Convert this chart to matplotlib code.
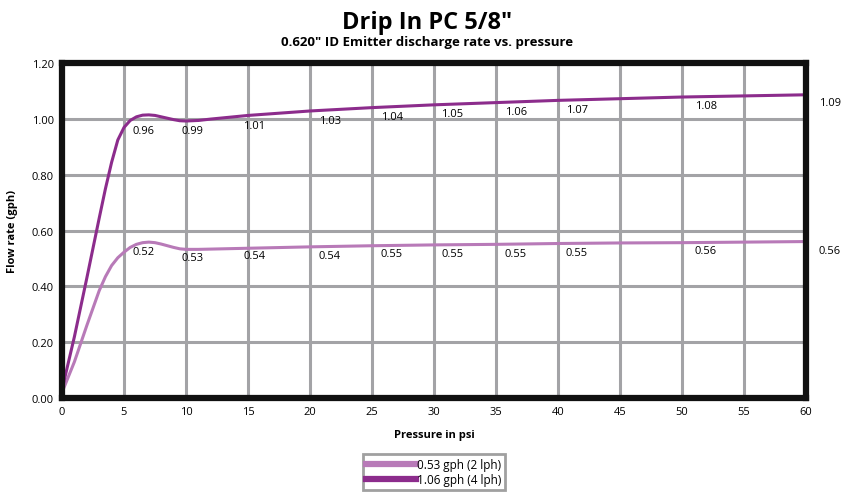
import matplotlib
matplotlib.use("Agg")
import matplotlib.pyplot as plt

## values
pressure = [0, 1, 2, 3, 3.5, 4, 4.5, 5, 5.5, 6, 6.5, 7, 7.5, 8, 8.5, 9, 9.5, 10, 11, 12,
            15, 20, 25, 30, 35, 40, 45, 50, 55, 60]
flow_2lph = [0.02, 0.13, 0.26, 0.385, 0.435, 0.475, 0.503, 0.523, 0.54, 0.551, 0.557, 0.559, 0.557, 0.552,
             0.546, 0.54, 0.535, 0.533, 0.533, 0.534,
             0.537, 0.542, 0.546, 0.549, 0.551, 0.554, 0.556, 0.557, 0.559, 0.561]
flow_4lph = [0.03, 0.22, 0.43, 0.645, 0.75, 0.845, 0.925, 0.97, 0.995, 1.008, 1.014, 1.015, 1.013, 1.008,
             1.003, 0.998, 0.994, 0.993, 0.995, 1.0,
             1.013, 1.029, 1.041, 1.051, 1.059, 1.067, 1.073, 1.079, 1.083, 1.087]

label_x = [5.7, 9.6, 14.6, 20.7, 25.7, 30.6, 35.7, 40.6, 51.0]
labels_2lph = ["0.52", "0.53", "0.54", "0.54", "0.55", "0.55", "0.55", "0.55", "0.56"]
labels_4lph = ["0.96", "0.99", "1.01", "1.03", "1.04", "1.05", "1.06", "1.07", "1.08"]
labels_2lph_y = [0.525, 0.505, 0.51, 0.512, 0.517, 0.517, 0.517, 0.52, 0.53]
labels_4lph_y = [0.96, 0.96, 0.977, 0.995, 1.009, 1.019, 1.027, 1.034, 1.047]
end_labels = ["0.56", "1.09"]
end_label_y = [0.56, 1.09]

LIGHT = "#b87ab8"
DARK = "#8c2c8c"
GRID = "#a3a3a6"

plt.rcParams['font.family'] = ['Open Sans', 'DejaVu Sans']

fig = plt.figure(figsize=(8.54, 5.02), dpi=100)
ax = fig.add_axes([0.0726, 0.205, 0.8714, 0.667])

ax.plot(pressure, flow_2lph, color=LIGHT, linewidth=2.2, label="0.53 gph (2 lph)", solid_joinstyle='round')
ax.plot(pressure, flow_4lph, color=DARK, linewidth=2.2, label="1.06 gph (4 lph)", solid_joinstyle='round')

for x, t, y in zip(label_x, labels_2lph, labels_2lph_y):
    ax.text(x, y, t, fontsize=8, ha='left', va='center')
for x, t, y in zip(label_x, labels_4lph, labels_4lph_y):
    ax.text(x, y, t, fontsize=8, ha='left', va='center')
for t, y in zip(end_labels, end_label_y):
    ax.text(61, y - 0.03, t, fontsize=8, ha='left', va='center', clip_on=False)

ax.set_xlim(0, 60)
ax.set_ylim(0, 1.2)
ax.set_xticks(range(0, 61, 5))
ax.set_yticks([0, 0.2, 0.4, 0.6, 0.8, 1.0, 1.2])
ax.set_yticklabels(["{:.2f}".format(v) for v in ax.get_yticks()])
ax.grid(True, color=GRID, linewidth=2.2)
ax.set_axisbelow(True)
ax.tick_params(axis='both', length=0, labelsize=8, pad=6)

for s in ax.spines.values():
    s.set_linewidth(4.5)
    s.set_color("#111111")

ax.set_xlabel("Pressure in psi", fontsize=8, fontweight='bold', labelpad=8)
ax.set_ylabel("Flow rate (gph)", fontsize=8, fontweight='bold', labelpad=10)

fig.text(0.5, 0.955, 'Drip In PC 5/8"', fontsize=17, fontweight='bold', ha='center', va='center')
fig.text(0.5, 0.915, '0.620" ID Emitter discharge rate vs. pressure', fontsize=9.5, fontweight='bold',
         ha='center', va='center')

leg = fig.legend(loc='center', bbox_to_anchor=(0.508, 0.958 - 0.9), fontsize=8.5, handlelength=4.2,
                 handletextpad=0.1, borderpad=0.3, labelspacing=0.2, fancybox=False, framealpha=1)
for h in leg.get_lines():
    h.set_linewidth(4.5)
leg.get_frame().set_edgecolor("#a0a0a0")
leg.get_frame().set_linewidth(2)

plt.savefig("out.png", dpi=100)
